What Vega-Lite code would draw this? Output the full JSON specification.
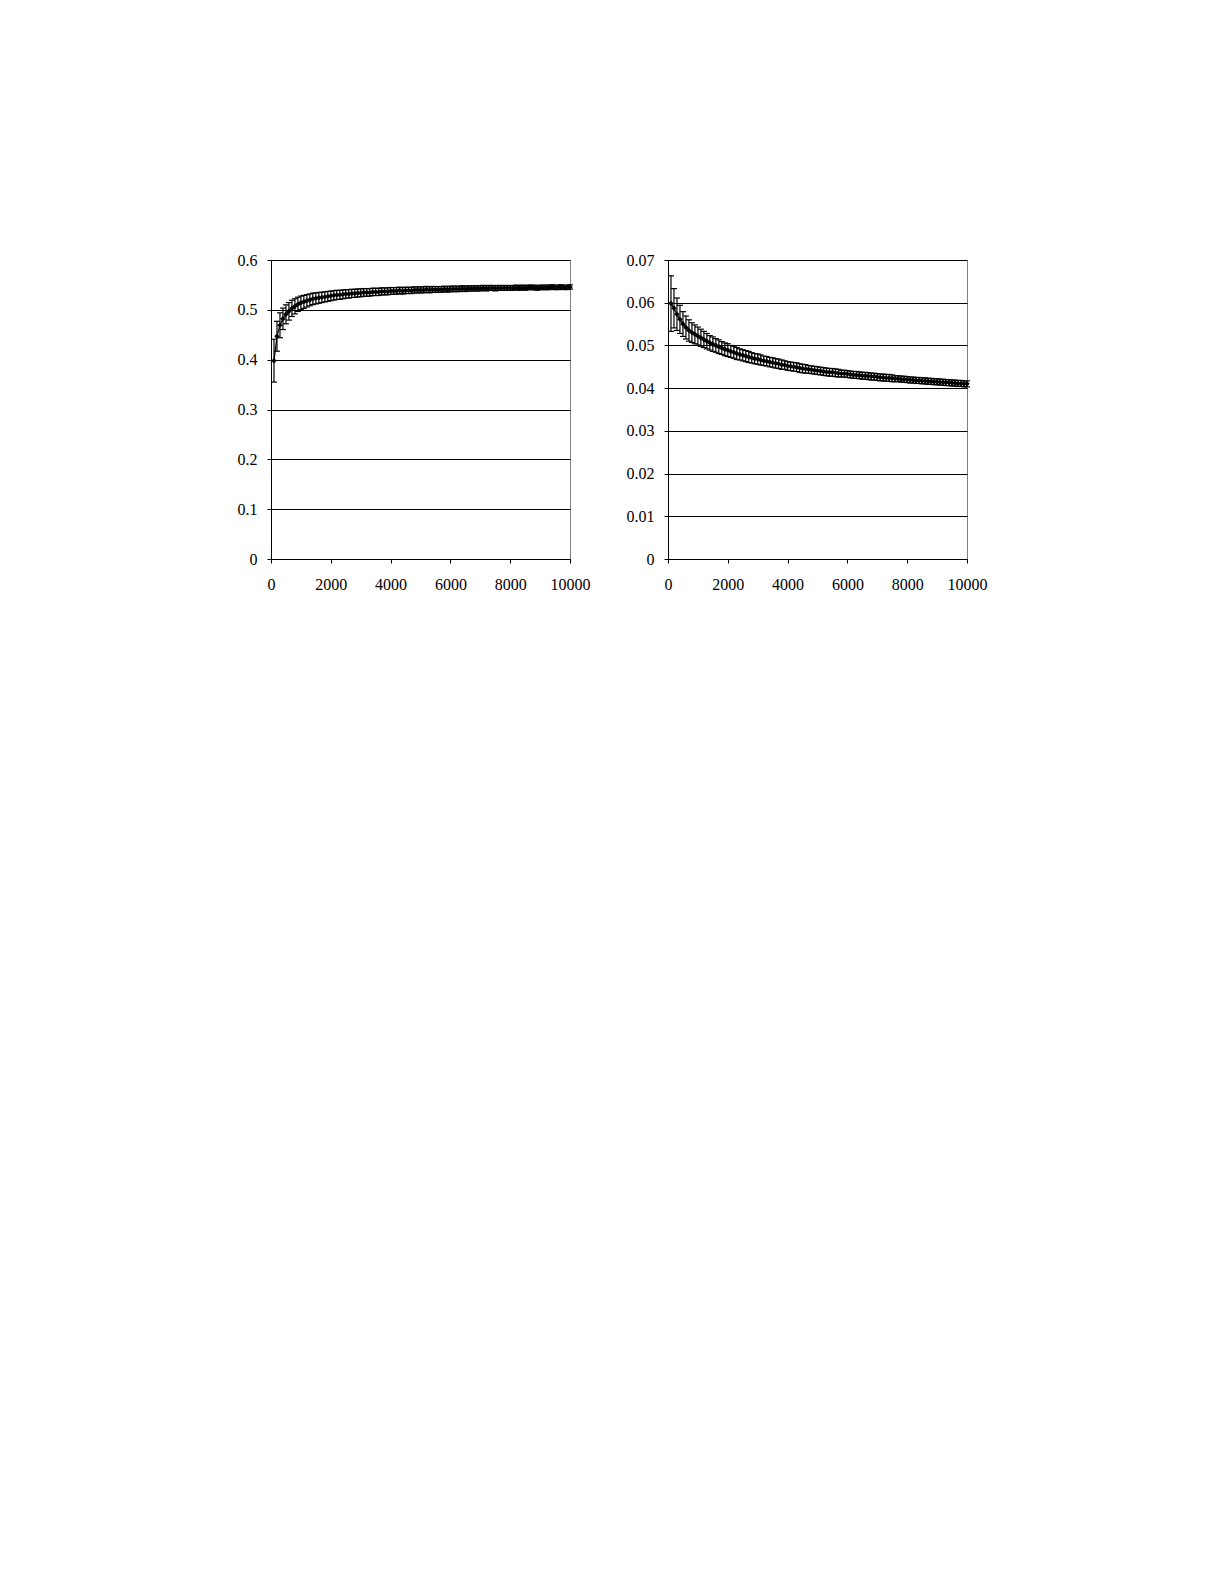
{
  "$schema": "https://vega.github.io/schema/vega-lite/v6.json",
  "description": "Two convergence curves with error bars, left rising to about 0.545, right falling to about 0.041",
  "background": "white",
  "padding": {"left": 230, "top": 251, "right": 0, "bottom": 0},
  "bounds": "flush",
  "spacing": 98,
  "datasets": {
    "runs": [
      {"n": 100, "a": 0.398, "ae": 0.043, "b": 0.0598, "be": 0.0065},
      {"n": 200, "a": 0.447, "ae": 0.030, "b": 0.0587, "be": 0.0046},
      {"n": 300, "a": 0.469, "ae": 0.025, "b": 0.0573, "be": 0.0038},
      {"n": 400, "a": 0.482, "ae": 0.0215, "b": 0.0561, "be": 0.0033},
      {"n": 500, "a": 0.491, "ae": 0.019, "b": 0.0550, "be": 0.0029},
      {"n": 600, "a": 0.497, "ae": 0.0176, "b": 0.0542, "be": 0.0027},
      {"n": 700, "a": 0.503, "ae": 0.0163, "b": 0.0535, "be": 0.0025},
      {"n": 800, "a": 0.507, "ae": 0.0152, "b": 0.0530, "be": 0.0023},
      {"n": 900, "a": 0.511, "ae": 0.0143, "b": 0.0526, "be": 0.0022},
      {"n": 1000, "a": 0.514, "ae": 0.0136, "b": 0.0522, "be": 0.0021},
      {"n": 1100, "a": 0.516, "ae": 0.0130, "b": 0.0518, "be": 0.0020},
      {"n": 1200, "a": 0.518, "ae": 0.0124, "b": 0.0514, "be": 0.0019},
      {"n": 1300, "a": 0.520, "ae": 0.0119, "b": 0.0510, "be": 0.0018},
      {"n": 1400, "a": 0.522, "ae": 0.0115, "b": 0.0506, "be": 0.0017},
      {"n": 1500, "a": 0.523, "ae": 0.0111, "b": 0.0503, "be": 0.0017},
      {"n": 1600, "a": 0.524, "ae": 0.0108, "b": 0.0500, "be": 0.0016},
      {"n": 1700, "a": 0.525, "ae": 0.0104, "b": 0.0497, "be": 0.0016},
      {"n": 1800, "a": 0.526, "ae": 0.0101, "b": 0.0494, "be": 0.0015},
      {"n": 1900, "a": 0.527, "ae": 0.0099, "b": 0.0491, "be": 0.0015},
      {"n": 2000, "a": 0.528, "ae": 0.0096, "b": 0.0489, "be": 0.0015},
      {"n": 2100, "a": 0.529, "ae": 0.0094, "b": 0.0486, "be": 0.0014},
      {"n": 2200, "a": 0.530, "ae": 0.0092, "b": 0.0484, "be": 0.0014},
      {"n": 2300, "a": 0.530, "ae": 0.0090, "b": 0.0481, "be": 0.0014},
      {"n": 2400, "a": 0.531, "ae": 0.0088, "b": 0.0479, "be": 0.0013},
      {"n": 2500, "a": 0.532, "ae": 0.0086, "b": 0.0477, "be": 0.0013},
      {"n": 2600, "a": 0.532, "ae": 0.0084, "b": 0.0475, "be": 0.0013},
      {"n": 2700, "a": 0.533, "ae": 0.0083, "b": 0.0473, "be": 0.0013},
      {"n": 2800, "a": 0.533, "ae": 0.0081, "b": 0.0471, "be": 0.0012},
      {"n": 2900, "a": 0.534, "ae": 0.0080, "b": 0.0469, "be": 0.0012},
      {"n": 3000, "a": 0.534, "ae": 0.0079, "b": 0.0468, "be": 0.0012},
      {"n": 3100, "a": 0.535, "ae": 0.0077, "b": 0.0466, "be": 0.0012},
      {"n": 3200, "a": 0.535, "ae": 0.0076, "b": 0.0464, "be": 0.0011},
      {"n": 3300, "a": 0.535, "ae": 0.0075, "b": 0.0463, "be": 0.0011},
      {"n": 3400, "a": 0.536, "ae": 0.0074, "b": 0.0461, "be": 0.0011},
      {"n": 3500, "a": 0.536, "ae": 0.0073, "b": 0.0460, "be": 0.0011},
      {"n": 3600, "a": 0.536, "ae": 0.0072, "b": 0.0458, "be": 0.0011},
      {"n": 3700, "a": 0.537, "ae": 0.0071, "b": 0.0457, "be": 0.0011},
      {"n": 3800, "a": 0.537, "ae": 0.0070, "b": 0.0455, "be": 0.0011},
      {"n": 3900, "a": 0.537, "ae": 0.0069, "b": 0.0454, "be": 0.0010},
      {"n": 4000, "a": 0.538, "ae": 0.0068, "b": 0.0452, "be": 0.0010},
      {"n": 4100, "a": 0.538, "ae": 0.0067, "b": 0.0451, "be": 0.0010},
      {"n": 4200, "a": 0.538, "ae": 0.0066, "b": 0.0450, "be": 0.0010},
      {"n": 4300, "a": 0.539, "ae": 0.0066, "b": 0.0449, "be": 0.0010},
      {"n": 4400, "a": 0.538, "ae": 0.0065, "b": 0.0447, "be": 0.0010},
      {"n": 4500, "a": 0.539, "ae": 0.0064, "b": 0.0446, "be": 0.0010},
      {"n": 4600, "a": 0.539, "ae": 0.0063, "b": 0.0445, "be": 0.0010},
      {"n": 4700, "a": 0.539, "ae": 0.0063, "b": 0.0444, "be": 0.0009},
      {"n": 4800, "a": 0.540, "ae": 0.0062, "b": 0.0443, "be": 0.0009},
      {"n": 4900, "a": 0.540, "ae": 0.0061, "b": 0.0442, "be": 0.0009},
      {"n": 5000, "a": 0.540, "ae": 0.0061, "b": 0.0441, "be": 0.0009},
      {"n": 5100, "a": 0.540, "ae": 0.0060, "b": 0.0440, "be": 0.0009},
      {"n": 5200, "a": 0.541, "ae": 0.0060, "b": 0.0439, "be": 0.0009},
      {"n": 5300, "a": 0.540, "ae": 0.0059, "b": 0.0438, "be": 0.0009},
      {"n": 5400, "a": 0.541, "ae": 0.0059, "b": 0.0437, "be": 0.0009},
      {"n": 5500, "a": 0.541, "ae": 0.0058, "b": 0.0437, "be": 0.0009},
      {"n": 5600, "a": 0.541, "ae": 0.0057, "b": 0.0436, "be": 0.0009},
      {"n": 5700, "a": 0.541, "ae": 0.0057, "b": 0.0435, "be": 0.0009},
      {"n": 5800, "a": 0.542, "ae": 0.0056, "b": 0.0434, "be": 0.0008},
      {"n": 5900, "a": 0.541, "ae": 0.0056, "b": 0.0434, "be": 0.0008},
      {"n": 6000, "a": 0.542, "ae": 0.0056, "b": 0.0433, "be": 0.0008},
      {"n": 6100, "a": 0.542, "ae": 0.0055, "b": 0.0432, "be": 0.0008},
      {"n": 6200, "a": 0.542, "ae": 0.0055, "b": 0.0431, "be": 0.0008},
      {"n": 6300, "a": 0.542, "ae": 0.0054, "b": 0.0431, "be": 0.0008},
      {"n": 6400, "a": 0.543, "ae": 0.0054, "b": 0.0430, "be": 0.0008},
      {"n": 6500, "a": 0.542, "ae": 0.0053, "b": 0.0429, "be": 0.0008},
      {"n": 6600, "a": 0.543, "ae": 0.0053, "b": 0.0429, "be": 0.0008},
      {"n": 6700, "a": 0.543, "ae": 0.0053, "b": 0.0428, "be": 0.0008},
      {"n": 6800, "a": 0.543, "ae": 0.0052, "b": 0.0427, "be": 0.0008},
      {"n": 6900, "a": 0.543, "ae": 0.0052, "b": 0.0427, "be": 0.0008},
      {"n": 7000, "a": 0.543, "ae": 0.0051, "b": 0.0426, "be": 0.0008},
      {"n": 7100, "a": 0.544, "ae": 0.0051, "b": 0.0425, "be": 0.0008},
      {"n": 7200, "a": 0.543, "ae": 0.0051, "b": 0.0425, "be": 0.0008},
      {"n": 7300, "a": 0.544, "ae": 0.0050, "b": 0.0424, "be": 0.0008},
      {"n": 7400, "a": 0.544, "ae": 0.0050, "b": 0.0424, "be": 0.0008},
      {"n": 7500, "a": 0.543, "ae": 0.0050, "b": 0.0423, "be": 0.0008},
      {"n": 7600, "a": 0.544, "ae": 0.0049, "b": 0.0422, "be": 0.0007},
      {"n": 7700, "a": 0.544, "ae": 0.0049, "b": 0.0422, "be": 0.0007},
      {"n": 7800, "a": 0.544, "ae": 0.0049, "b": 0.0421, "be": 0.0007},
      {"n": 7900, "a": 0.544, "ae": 0.0048, "b": 0.0421, "be": 0.0007},
      {"n": 8000, "a": 0.544, "ae": 0.0048, "b": 0.0420, "be": 0.0007},
      {"n": 8100, "a": 0.544, "ae": 0.0048, "b": 0.0419, "be": 0.0007},
      {"n": 8200, "a": 0.545, "ae": 0.0047, "b": 0.0419, "be": 0.0007},
      {"n": 8300, "a": 0.544, "ae": 0.0047, "b": 0.0418, "be": 0.0007},
      {"n": 8400, "a": 0.545, "ae": 0.0047, "b": 0.0418, "be": 0.0007},
      {"n": 8500, "a": 0.544, "ae": 0.0047, "b": 0.0417, "be": 0.0007},
      {"n": 8600, "a": 0.545, "ae": 0.0046, "b": 0.0417, "be": 0.0007},
      {"n": 8700, "a": 0.545, "ae": 0.0046, "b": 0.0416, "be": 0.0007},
      {"n": 8800, "a": 0.545, "ae": 0.0046, "b": 0.0416, "be": 0.0007},
      {"n": 8900, "a": 0.544, "ae": 0.0046, "b": 0.0415, "be": 0.0007},
      {"n": 9000, "a": 0.545, "ae": 0.0045, "b": 0.0415, "be": 0.0007},
      {"n": 9100, "a": 0.545, "ae": 0.0045, "b": 0.0414, "be": 0.0007},
      {"n": 9200, "a": 0.545, "ae": 0.0045, "b": 0.0414, "be": 0.0007},
      {"n": 9300, "a": 0.545, "ae": 0.0045, "b": 0.0413, "be": 0.0007},
      {"n": 9400, "a": 0.546, "ae": 0.0044, "b": 0.0413, "be": 0.0007},
      {"n": 9500, "a": 0.545, "ae": 0.0044, "b": 0.0412, "be": 0.0007},
      {"n": 9600, "a": 0.545, "ae": 0.0044, "b": 0.0412, "be": 0.0007},
      {"n": 9700, "a": 0.546, "ae": 0.0044, "b": 0.0411, "be": 0.0007},
      {"n": 9800, "a": 0.545, "ae": 0.0043, "b": 0.0411, "be": 0.0007},
      {"n": 9900, "a": 0.545, "ae": 0.0043, "b": 0.0410, "be": 0.0007},
      {"n": 10000, "a": 0.546, "ae": 0.0043, "b": 0.0410, "be": 0.0007}
    ]
  },
  "data": {"name": "runs"},
  "hconcat": [
    {
      "width": 299,
      "height": 299,
      "encoding": {
        "x": {"field": "n", "type": "quantitative", "title": null,
          "scale": {"domain": [0, 10000], "nice": false},
          "axis": {"values": [0, 2000, 4000, 6000, 8000, 10000], "format": "d"}}
      },
      "layer": [
        {
          "mark": {"type": "errorbar", "color": "black", "opacity": 1, "thickness": 1.2,
            "rule": {"color": "black"}, "ticks": {"size": 6, "color": "black"}},
          "encoding": {
            "y": {"field": "a", "type": "quantitative", "title": null,
              "scale": {"domain": [0, 0.6], "nice": false},
              "axis": {"values": [0, 0.1, 0.2, 0.3, 0.4, 0.5, 0.6], "format": "~g"}},
            "yError": {"field": "ae"}
          }
        },
        {
          "mark": {"type": "line", "color": "black", "strokeWidth": 1.2},
          "encoding": {"y": {"field": "a", "type": "quantitative", "title": null}}
        },
        {
          "mark": {"type": "point", "shape": "diamond", "filled": true, "color": "black", "size": 30, "opacity": 1},
          "encoding": {"y": {"field": "a", "type": "quantitative", "title": null}}
        }
      ]
    },
    {
      "width": 299,
      "height": 299,
      "encoding": {
        "x": {"field": "n", "type": "quantitative", "title": null,
          "scale": {"domain": [0, 10000], "nice": false},
          "axis": {"values": [0, 2000, 4000, 6000, 8000, 10000], "format": "d"}}
      },
      "layer": [
        {
          "mark": {"type": "errorbar", "color": "black", "opacity": 1, "thickness": 1.2,
            "rule": {"color": "black"}, "ticks": {"size": 6, "color": "black"}},
          "encoding": {
            "y": {"field": "b", "type": "quantitative", "title": null,
              "scale": {"domain": [0, 0.07], "nice": false},
              "axis": {"values": [0, 0.01, 0.02, 0.03, 0.04, 0.05, 0.06, 0.07], "format": "~g"}},
            "yError": {"field": "be"}
          }
        },
        {
          "mark": {"type": "line", "color": "black", "strokeWidth": 1.2},
          "encoding": {"y": {"field": "b", "type": "quantitative", "title": null}}
        },
        {
          "mark": {"type": "point", "shape": "diamond", "filled": true, "color": "black", "size": 30, "opacity": 1},
          "encoding": {"y": {"field": "b", "type": "quantitative", "title": null}}
        }
      ]
    }
  ],
  "config": {
    "view": {"stroke": "#808080", "strokeWidth": 1},
    "axis": {
      "domainColor": "black",
      "domainWidth": 1,
      "tickColor": "black",
      "tickSize": 4,
      "labelColor": "black",
      "labelFont": "Liberation Serif",
      "labelFontSize": 16,
      "labelPadding": 10,
      "labelFlush": false,
      "labelOverlap": false,
      "gridColor": "black",
      "gridOpacity": 1,
      "gridWidth": 1
    },
    "axisX": {"grid": false, "labelPadding": 13},
    "axisY": {"grid": true, "minExtent": 40, "maxExtent": 40}
  }
}
